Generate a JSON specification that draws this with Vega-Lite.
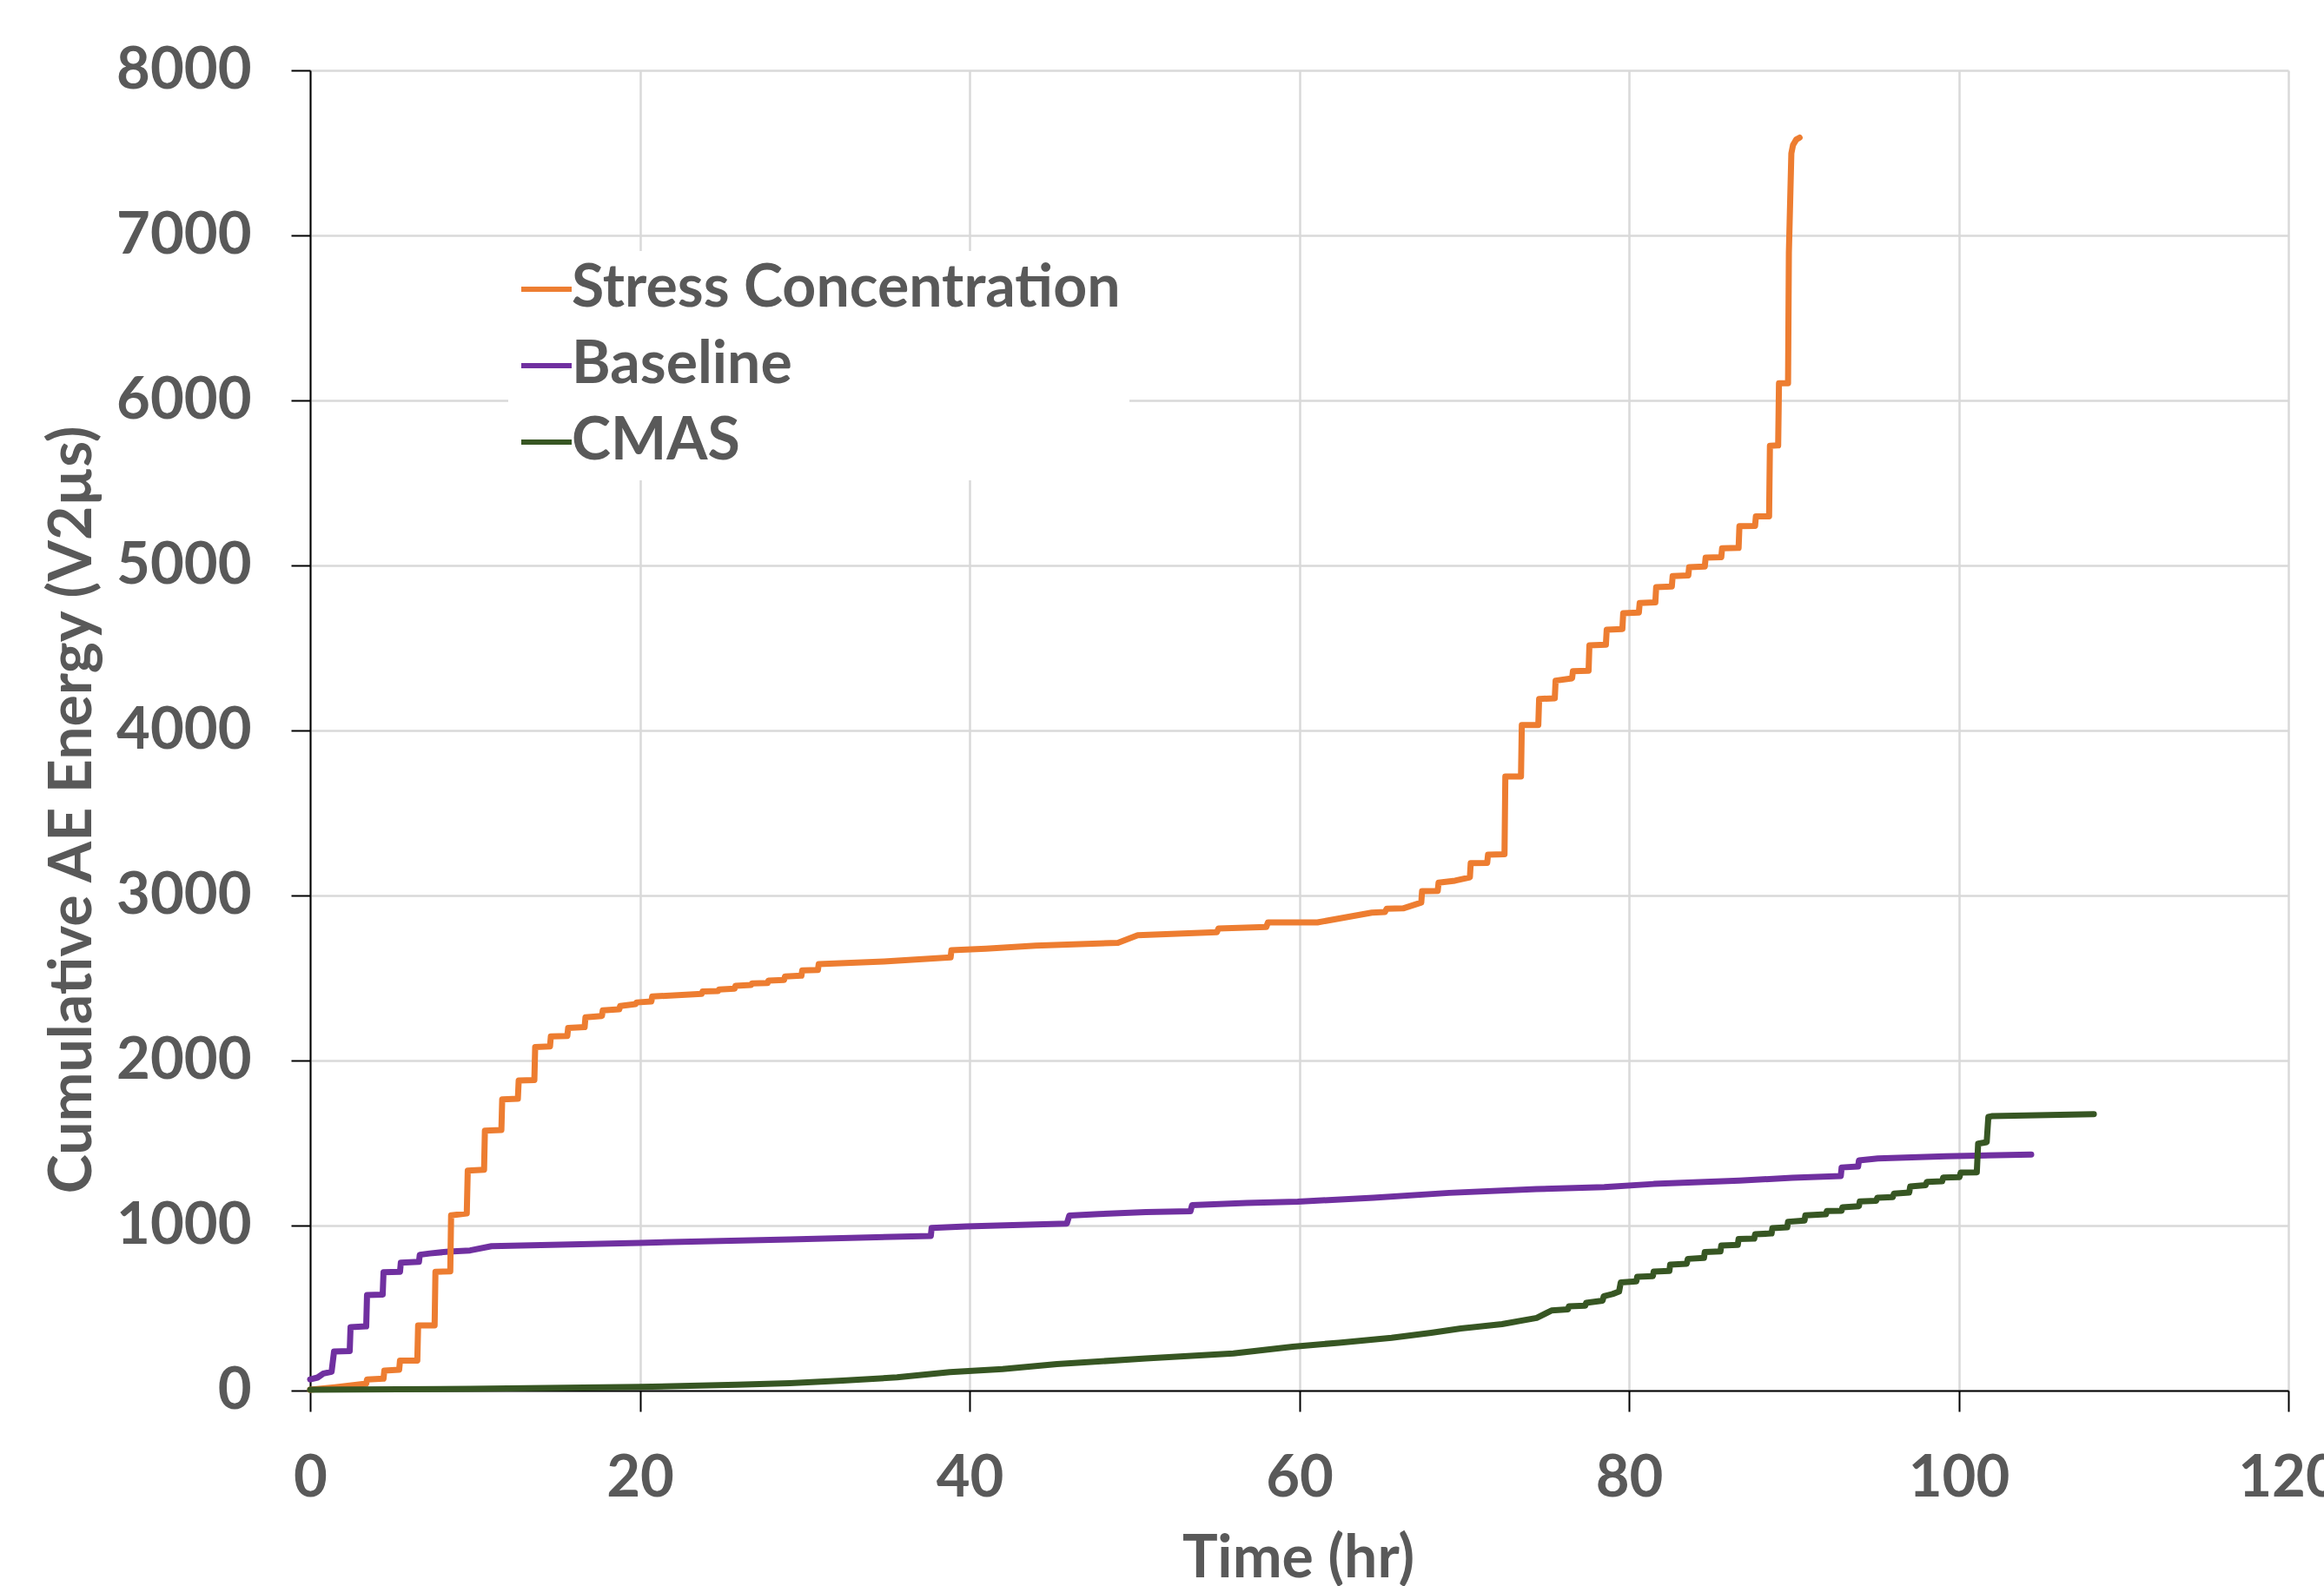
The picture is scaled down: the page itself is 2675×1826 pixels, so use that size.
{
  "$schema": "https://vega.github.io/schema/vega-lite/v6.json",
  "width": 2277,
  "height": 1520,
  "autosize": "none",
  "padding": {"left": 357, "top": 81, "right": 41, "bottom": 225},
  "background": "white",
  "config": {
    "font": "Lato",
    "view": {"stroke": null},
    "axis": {
      "domainColor": "#000000", "domainWidth": 2,
      "tickColor": "#000000", "tickWidth": 2,
      "gridColor": "#D9D9D9", "gridWidth": 2.5,
      "labelFont": "Lato", "labelFontWeight": "bold", "labelColor": "#595959", "labelFontSize": 67,
      "titleFont": "Lato", "titleFontWeight": "bold", "titleColor": "#595959", "titleFontSize": 68
    }
  },
  "data": {
    "values": [
      {"series": "Baseline", "time": 0, "energy": 68},
      {"series": "Baseline", "time": 0.45, "energy": 79},
      {"series": "Baseline", "time": 0.8, "energy": 103},
      {"series": "Baseline", "time": 1.3, "energy": 114},
      {"series": "Baseline", "time": 1.45, "energy": 237},
      {"series": "Baseline", "time": 2.4, "energy": 240},
      {"series": "Baseline", "time": 2.45, "energy": 384},
      {"series": "Baseline", "time": 3.4, "energy": 389},
      {"series": "Baseline", "time": 3.45, "energy": 579},
      {"series": "Baseline", "time": 4.4, "energy": 582},
      {"series": "Baseline", "time": 4.45, "energy": 717},
      {"series": "Baseline", "time": 5.45, "energy": 720},
      {"series": "Baseline", "time": 5.5, "energy": 775},
      {"series": "Baseline", "time": 6.6, "energy": 780},
      {"series": "Baseline", "time": 6.65, "energy": 823},
      {"series": "Baseline", "time": 7.25, "energy": 831},
      {"series": "Baseline", "time": 8.4, "energy": 842},
      {"series": "Baseline", "time": 9.7, "energy": 849},
      {"series": "Baseline", "time": 11.0, "energy": 875},
      {"series": "Baseline", "time": 20, "energy": 895},
      {"series": "Baseline", "time": 29.1, "energy": 916},
      {"series": "Baseline", "time": 37.65, "energy": 937},
      {"series": "Baseline", "time": 37.7, "energy": 986},
      {"series": "Baseline", "time": 39.8, "energy": 995},
      {"series": "Baseline", "time": 45.9, "energy": 1012},
      {"series": "Baseline", "time": 46.05, "energy": 1061},
      {"series": "Baseline", "time": 47.85, "energy": 1070},
      {"series": "Baseline", "time": 50.7, "energy": 1082},
      {"series": "Baseline", "time": 53.4, "energy": 1087},
      {"series": "Baseline", "time": 53.5, "energy": 1124},
      {"series": "Baseline", "time": 56.8, "energy": 1137},
      {"series": "Baseline", "time": 59.9, "energy": 1145},
      {"series": "Baseline", "time": 64.5, "energy": 1168},
      {"series": "Baseline", "time": 69.1, "energy": 1198},
      {"series": "Baseline", "time": 74.4, "energy": 1221},
      {"series": "Baseline", "time": 78.5, "energy": 1233},
      {"series": "Baseline", "time": 81.5, "energy": 1252},
      {"series": "Baseline", "time": 86.7, "energy": 1272},
      {"series": "Baseline", "time": 89.9, "energy": 1290},
      {"series": "Baseline", "time": 92.85, "energy": 1300},
      {"series": "Baseline", "time": 92.9, "energy": 1352},
      {"series": "Baseline", "time": 93.9, "energy": 1358},
      {"series": "Baseline", "time": 93.95, "energy": 1395},
      {"series": "Baseline", "time": 95.1, "energy": 1407},
      {"series": "Baseline", "time": 99.2, "energy": 1420},
      {"series": "Baseline", "time": 104.4, "energy": 1430},

      {"series": "Stress Concentration", "time": 0, "energy": 5},
      {"series": "Stress Concentration", "time": 1.5, "energy": 20},
      {"series": "Stress Concentration", "time": 3.4, "energy": 42},
      {"series": "Stress Concentration", "time": 3.45, "energy": 67},
      {"series": "Stress Concentration", "time": 4.45, "energy": 72},
      {"series": "Stress Concentration", "time": 4.5, "energy": 121},
      {"series": "Stress Concentration", "time": 5.4, "energy": 126},
      {"series": "Stress Concentration", "time": 5.45, "energy": 182},
      {"series": "Stress Concentration", "time": 6.5, "energy": 182},
      {"series": "Stress Concentration", "time": 6.55, "energy": 395},
      {"series": "Stress Concentration", "time": 7.55, "energy": 395},
      {"series": "Stress Concentration", "time": 7.6, "energy": 720},
      {"series": "Stress Concentration", "time": 8.5, "energy": 723},
      {"series": "Stress Concentration", "time": 8.55, "energy": 1062},
      {"series": "Stress Concentration", "time": 9.5, "energy": 1073},
      {"series": "Stress Concentration", "time": 9.56, "energy": 1333},
      {"series": "Stress Concentration", "time": 10.55, "energy": 1338},
      {"series": "Stress Concentration", "time": 10.6, "energy": 1575},
      {"series": "Stress Concentration", "time": 11.6, "energy": 1579},
      {"series": "Stress Concentration", "time": 11.65, "energy": 1765},
      {"series": "Stress Concentration", "time": 12.6, "energy": 1768},
      {"series": "Stress Concentration", "time": 12.65, "energy": 1879},
      {"series": "Stress Concentration", "time": 13.6, "energy": 1882},
      {"series": "Stress Concentration", "time": 13.65, "energy": 2082},
      {"series": "Stress Concentration", "time": 14.55, "energy": 2086},
      {"series": "Stress Concentration", "time": 14.6, "energy": 2146},
      {"series": "Stress Concentration", "time": 15.6, "energy": 2149},
      {"series": "Stress Concentration", "time": 15.65, "energy": 2198},
      {"series": "Stress Concentration", "time": 16.65, "energy": 2202},
      {"series": "Stress Concentration", "time": 16.7, "energy": 2262},
      {"series": "Stress Concentration", "time": 17.7, "energy": 2270},
      {"series": "Stress Concentration", "time": 17.75, "energy": 2304},
      {"series": "Stress Concentration", "time": 18.75, "energy": 2310},
      {"series": "Stress Concentration", "time": 18.8, "energy": 2330},
      {"series": "Stress Concentration", "time": 19.75, "energy": 2342},
      {"series": "Stress Concentration", "time": 19.8, "energy": 2352},
      {"series": "Stress Concentration", "time": 20.7, "energy": 2358},
      {"series": "Stress Concentration", "time": 20.75, "energy": 2388},
      {"series": "Stress Concentration", "time": 23.75, "energy": 2404},
      {"series": "Stress Concentration", "time": 23.8, "energy": 2418},
      {"series": "Stress Concentration", "time": 24.75, "energy": 2421},
      {"series": "Stress Concentration", "time": 24.8, "energy": 2430},
      {"series": "Stress Concentration", "time": 25.75, "energy": 2435},
      {"series": "Stress Concentration", "time": 25.8, "energy": 2453},
      {"series": "Stress Concentration", "time": 26.75, "energy": 2458},
      {"series": "Stress Concentration", "time": 26.8, "energy": 2467},
      {"series": "Stress Concentration", "time": 27.75, "energy": 2470},
      {"series": "Stress Concentration", "time": 27.8, "energy": 2484},
      {"series": "Stress Concentration", "time": 28.75, "energy": 2488},
      {"series": "Stress Concentration", "time": 28.8, "energy": 2509},
      {"series": "Stress Concentration", "time": 29.8, "energy": 2514},
      {"series": "Stress Concentration", "time": 29.85, "energy": 2546},
      {"series": "Stress Concentration", "time": 30.8, "energy": 2549},
      {"series": "Stress Concentration", "time": 30.85, "energy": 2584},
      {"series": "Stress Concentration", "time": 34.8, "energy": 2600},
      {"series": "Stress Concentration", "time": 38.85, "energy": 2625},
      {"series": "Stress Concentration", "time": 38.9, "energy": 2668},
      {"series": "Stress Concentration", "time": 41, "energy": 2677},
      {"series": "Stress Concentration", "time": 44, "energy": 2696},
      {"series": "Stress Concentration", "time": 49, "energy": 2713},
      {"series": "Stress Concentration", "time": 50.2, "energy": 2759},
      {"series": "Stress Concentration", "time": 55, "energy": 2778},
      {"series": "Stress Concentration", "time": 55.1, "energy": 2800},
      {"series": "Stress Concentration", "time": 58, "energy": 2809},
      {"series": "Stress Concentration", "time": 58.1, "energy": 2837},
      {"series": "Stress Concentration", "time": 61.1, "energy": 2837},
      {"series": "Stress Concentration", "time": 64.4, "energy": 2896},
      {"series": "Stress Concentration", "time": 65.2, "energy": 2900},
      {"series": "Stress Concentration", "time": 65.3, "energy": 2920},
      {"series": "Stress Concentration", "time": 66.3, "energy": 2922},
      {"series": "Stress Concentration", "time": 67.4, "energy": 2957},
      {"series": "Stress Concentration", "time": 67.45, "energy": 3026},
      {"series": "Stress Concentration", "time": 68.4, "energy": 3028},
      {"series": "Stress Concentration", "time": 68.45, "energy": 3078},
      {"series": "Stress Concentration", "time": 69.45, "energy": 3090},
      {"series": "Stress Concentration", "time": 70.35, "energy": 3110},
      {"series": "Stress Concentration", "time": 70.4, "energy": 3196},
      {"series": "Stress Concentration", "time": 71.4, "energy": 3198},
      {"series": "Stress Concentration", "time": 71.45, "energy": 3247},
      {"series": "Stress Concentration", "time": 72.45, "energy": 3250},
      {"series": "Stress Concentration", "time": 72.5, "energy": 3721},
      {"series": "Stress Concentration", "time": 73.45, "energy": 3721},
      {"series": "Stress Concentration", "time": 73.5, "energy": 4033},
      {"series": "Stress Concentration", "time": 74.5, "energy": 4033},
      {"series": "Stress Concentration", "time": 74.55, "energy": 4191},
      {"series": "Stress Concentration", "time": 75.5, "energy": 4195},
      {"series": "Stress Concentration", "time": 75.55, "energy": 4302},
      {"series": "Stress Concentration", "time": 76.55, "energy": 4316},
      {"series": "Stress Concentration", "time": 76.6, "energy": 4359},
      {"series": "Stress Concentration", "time": 77.55, "energy": 4362},
      {"series": "Stress Concentration", "time": 77.6, "energy": 4516},
      {"series": "Stress Concentration", "time": 78.6, "energy": 4520},
      {"series": "Stress Concentration", "time": 78.65, "energy": 4611},
      {"series": "Stress Concentration", "time": 79.6, "energy": 4615},
      {"series": "Stress Concentration", "time": 79.65, "energy": 4711},
      {"series": "Stress Concentration", "time": 80.6, "energy": 4715},
      {"series": "Stress Concentration", "time": 80.65, "energy": 4772},
      {"series": "Stress Concentration", "time": 81.6, "energy": 4776},
      {"series": "Stress Concentration", "time": 81.65, "energy": 4869},
      {"series": "Stress Concentration", "time": 82.6, "energy": 4873},
      {"series": "Stress Concentration", "time": 82.65, "energy": 4936},
      {"series": "Stress Concentration", "time": 83.6, "energy": 4940},
      {"series": "Stress Concentration", "time": 83.65, "energy": 4990},
      {"series": "Stress Concentration", "time": 84.6, "energy": 4994},
      {"series": "Stress Concentration", "time": 84.65, "energy": 5047},
      {"series": "Stress Concentration", "time": 85.6, "energy": 5050},
      {"series": "Stress Concentration", "time": 85.65, "energy": 5104},
      {"series": "Stress Concentration", "time": 86.65, "energy": 5106},
      {"series": "Stress Concentration", "time": 86.7, "energy": 5238},
      {"series": "Stress Concentration", "time": 87.65, "energy": 5240},
      {"series": "Stress Concentration", "time": 87.7, "energy": 5298},
      {"series": "Stress Concentration", "time": 88.5, "energy": 5298},
      {"series": "Stress Concentration", "time": 88.55, "energy": 5725},
      {"series": "Stress Concentration", "time": 89.05, "energy": 5727},
      {"series": "Stress Concentration", "time": 89.1, "energy": 6104},
      {"series": "Stress Concentration", "time": 89.65, "energy": 6104},
      {"series": "Stress Concentration", "time": 89.7, "energy": 6893},
      {"series": "Stress Concentration", "time": 89.85, "energy": 7497},
      {"series": "Stress Concentration", "time": 89.95, "energy": 7547},
      {"series": "Stress Concentration", "time": 90.15, "energy": 7581},
      {"series": "Stress Concentration", "time": 90.35, "energy": 7592},

      {"series": "CMAS", "time": 0, "energy": 5},
      {"series": "CMAS", "time": 9.7, "energy": 10},
      {"series": "CMAS", "time": 20, "energy": 22},
      {"series": "CMAS", "time": 25.9, "energy": 35},
      {"series": "CMAS", "time": 29.1, "energy": 45},
      {"series": "CMAS", "time": 32.3, "energy": 60},
      {"series": "CMAS", "time": 35.6, "energy": 80},
      {"series": "CMAS", "time": 38.8, "energy": 112},
      {"series": "CMAS", "time": 42, "energy": 130},
      {"series": "CMAS", "time": 45.3, "energy": 160},
      {"series": "CMAS", "time": 50.7, "energy": 195},
      {"series": "CMAS", "time": 56, "energy": 225},
      {"series": "CMAS", "time": 59.6, "energy": 266},
      {"series": "CMAS", "time": 62.4, "energy": 290},
      {"series": "CMAS", "time": 65.6, "energy": 320},
      {"series": "CMAS", "time": 68, "energy": 350},
      {"series": "CMAS", "time": 69.8, "energy": 376},
      {"series": "CMAS", "time": 72.3, "energy": 403},
      {"series": "CMAS", "time": 74.4, "energy": 440},
      {"series": "CMAS", "time": 75.3, "energy": 485},
      {"series": "CMAS", "time": 76.3, "energy": 492},
      {"series": "CMAS", "time": 76.35, "energy": 510},
      {"series": "CMAS", "time": 77.35, "energy": 515},
      {"series": "CMAS", "time": 77.4, "energy": 532},
      {"series": "CMAS", "time": 78.4, "energy": 545},
      {"series": "CMAS", "time": 78.47, "energy": 572},
      {"series": "CMAS", "time": 79.0, "energy": 585},
      {"series": "CMAS", "time": 79.4, "energy": 600},
      {"series": "CMAS", "time": 79.5, "energy": 655},
      {"series": "CMAS", "time": 80.45, "energy": 662},
      {"series": "CMAS", "time": 80.5, "energy": 690},
      {"series": "CMAS", "time": 81.45, "energy": 694},
      {"series": "CMAS", "time": 81.5, "energy": 721},
      {"series": "CMAS", "time": 82.45, "energy": 725},
      {"series": "CMAS", "time": 82.5, "energy": 763},
      {"series": "CMAS", "time": 83.5, "energy": 768},
      {"series": "CMAS", "time": 83.57, "energy": 798},
      {"series": "CMAS", "time": 84.55, "energy": 804},
      {"series": "CMAS", "time": 84.6, "energy": 839},
      {"series": "CMAS", "time": 85.55, "energy": 843},
      {"series": "CMAS", "time": 85.6, "energy": 879},
      {"series": "CMAS", "time": 86.6, "energy": 883},
      {"series": "CMAS", "time": 86.65, "energy": 918},
      {"series": "CMAS", "time": 87.6, "energy": 921},
      {"series": "CMAS", "time": 87.65, "energy": 947},
      {"series": "CMAS", "time": 88.65, "energy": 952},
      {"series": "CMAS", "time": 88.7, "energy": 984},
      {"series": "CMAS", "time": 89.6, "energy": 990},
      {"series": "CMAS", "time": 89.65, "energy": 1023},
      {"series": "CMAS", "time": 90.65, "energy": 1030},
      {"series": "CMAS", "time": 90.7, "energy": 1062},
      {"series": "CMAS", "time": 91.95, "energy": 1068},
      {"series": "CMAS", "time": 92.0, "energy": 1088},
      {"series": "CMAS", "time": 92.9, "energy": 1090},
      {"series": "CMAS", "time": 92.95, "energy": 1111},
      {"series": "CMAS", "time": 93.95, "energy": 1117},
      {"series": "CMAS", "time": 94.0, "energy": 1146},
      {"series": "CMAS", "time": 95.0, "energy": 1150},
      {"series": "CMAS", "time": 95.06, "energy": 1168},
      {"series": "CMAS", "time": 96.0, "energy": 1172},
      {"series": "CMAS", "time": 96.07, "energy": 1193},
      {"series": "CMAS", "time": 97.0, "energy": 1200},
      {"series": "CMAS", "time": 97.06, "energy": 1237},
      {"series": "CMAS", "time": 98.0, "energy": 1245},
      {"series": "CMAS", "time": 98.07, "energy": 1265},
      {"series": "CMAS", "time": 99.0, "energy": 1268},
      {"series": "CMAS", "time": 99.06, "energy": 1291},
      {"series": "CMAS", "time": 100.05, "energy": 1294},
      {"series": "CMAS", "time": 100.12, "energy": 1321},
      {"series": "CMAS", "time": 101.1, "energy": 1323},
      {"series": "CMAS", "time": 101.18, "energy": 1496},
      {"series": "CMAS", "time": 101.7, "energy": 1505},
      {"series": "CMAS", "time": 101.8, "energy": 1658},
      {"series": "CMAS", "time": 102.0, "energy": 1663},
      {"series": "CMAS", "time": 108.2, "energy": 1675}
    ]
  },
  "mark": {"type": "line", "strokeWidth": 7, "strokeJoin": "round", "strokeCap": "round"},
  "encoding": {
    "x": {
      "field": "time", "type": "quantitative",
      "scale": {"domain": [0, 120], "nice": false, "zero": false},
      "axis": {
        "values": [0, 20, 40, 60, 80, 100, 120], "format": "d",
        "tickSize": 24, "labelPadding": 44, "labelFlush": false, "labelOverlap": false,
        "title": "Time (hr)", "titleBaseline": "alphabetic", "titleAlign": "center",
        "titleX": 1137, "titleY": 214
      }
    },
    "y": {
      "field": "energy", "type": "quantitative",
      "scale": {"domain": [0, 8000], "nice": false},
      "axis": {
        "values": [0, 1000, 2000, 3000, 4000, 5000, 6000, 7000, 8000], "format": "d",
        "tickSize": 22, "labelPadding": 46, "labelFlush": false, "labelOverlap": false,
        "title": "Cumulative AE Energy (V2µs)", "titleAngle": 270, "titleBaseline": "alphabetic",
        "titleAlign": "center", "titleX": -253, "titleY": 851
      }
    },
    "color": {
      "field": "series", "type": "nominal",
      "scale": {"domain": ["Stress Concentration", "Baseline", "CMAS"], "range": ["#ED7D31", "#7030A0", "#375623"]},
      "legend": {
        "title": null, "orient": "none", "legendX": 228, "legendY": 208,
        "symbolType": "stroke", "symbolSize": 3364, "symbolStrokeWidth": 6,
        "labelFont": "Lato", "labelFontWeight": "bold", "labelFontSize": 68, "labelColor": "#595959",
        "labelOffset": -5, "rowPadding": 20, "padding": 10, "fillColor": "white", "strokeColor": null,
        "labelLimit": 1000
      }
    }
  }
}
